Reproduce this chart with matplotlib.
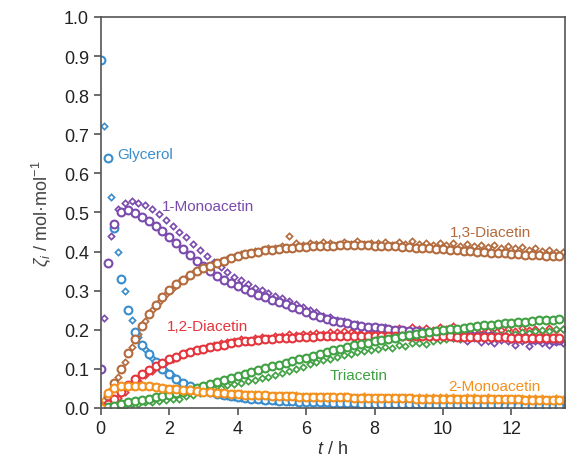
import numpy as np
import matplotlib
matplotlib.use("Agg")
import matplotlib.pyplot as plt

plt.rcParams["font.family"] = ["Liberation Sans", "DejaVu Sans"]
plt.rcParams["mathtext.fontset"] = "custom"
plt.rcParams["mathtext.rm"] = "Liberation Sans"
plt.rcParams["mathtext.it"] = "Liberation Sans:italic"

# sampling times (h): model every 0.2 h, measurement offset by 0.1 h
t_model = np.round(np.arange(0, 13.41, 0.2), 1)
t_exp = np.round(np.arange(0.1, 13.51, 0.2), 1)

# model values (open circles)
glycerol_model = [
    0.89, 0.64, 0.46, 0.33, 0.25, 0.195, 0.16, 0.137, 0.117, 0.100,
    0.086, 0.074, 0.064, 0.056, 0.049, 0.044, 0.040, 0.036, 0.033, 0.030,
    0.028, 0.026, 0.024, 0.023, 0.021, 0.020, 0.019, 0.018, 0.017, 0.016,
    0.015, 0.015, 0.014, 0.014, 0.013, 0.013, 0.012, 0.012, 0.011, 0.011,
    0.011, 0.010, 0.010, 0.010, 0.009, 0.009, 0.009, 0.009, 0.008, 0.008,
    0.008, 0.008, 0.008, 0.007, 0.007, 0.007, 0.007, 0.007, 0.007, 0.006,
    0.006, 0.006, 0.006, 0.006, 0.006, 0.006, 0.005, 0.005]
mono1_model = [
    0.10, 0.37, 0.47, 0.50, 0.505, 0.498, 0.488, 0.478, 0.466, 0.452,
    0.437, 0.421, 0.406, 0.391, 0.377, 0.363, 0.350, 0.338, 0.328, 0.319,
    0.311, 0.304, 0.297, 0.290, 0.283, 0.277, 0.271, 0.265, 0.259, 0.252,
    0.245, 0.238, 0.232, 0.227, 0.223, 0.219, 0.216, 0.213, 0.210, 0.208,
    0.206, 0.204, 0.202, 0.200, 0.199, 0.197, 0.196, 0.194, 0.193, 0.192,
    0.190, 0.189, 0.188, 0.187, 0.186, 0.185, 0.184, 0.183, 0.182, 0.181,
    0.180, 0.179, 0.178, 0.177, 0.177, 0.176, 0.175, 0.175]
di13_model = [
    0.000, 0.030, 0.064, 0.100, 0.140, 0.176, 0.210, 0.240, 0.264, 0.285,
    0.302, 0.316, 0.328, 0.339, 0.349, 0.357, 0.364, 0.371, 0.377, 0.383,
    0.388, 0.393, 0.397, 0.400, 0.403, 0.405, 0.407, 0.409, 0.410, 0.411,
    0.412, 0.413, 0.414, 0.415, 0.415, 0.416, 0.416, 0.416, 0.416, 0.416,
    0.415, 0.415, 0.414, 0.413, 0.412, 0.411, 0.410, 0.409, 0.408, 0.407,
    0.406, 0.405, 0.403, 0.402, 0.401, 0.400, 0.398, 0.397, 0.396, 0.395,
    0.394, 0.393, 0.392, 0.391, 0.390, 0.389, 0.388, 0.388]
di12_model = [
    0.000, 0.010, 0.024, 0.042, 0.058, 0.073, 0.086, 0.097, 0.107, 0.116,
    0.124, 0.131, 0.137, 0.142, 0.147, 0.151, 0.155, 0.159, 0.162, 0.165,
    0.168, 0.170, 0.172, 0.174, 0.176, 0.177, 0.178, 0.179, 0.180, 0.181,
    0.182, 0.182, 0.183, 0.183, 0.184, 0.184, 0.184, 0.184, 0.184, 0.184,
    0.184, 0.184, 0.184, 0.184, 0.184, 0.184, 0.183, 0.183, 0.183, 0.183,
    0.183, 0.183, 0.182, 0.182, 0.182, 0.182, 0.181, 0.181, 0.181, 0.181,
    0.180, 0.180, 0.180, 0.180, 0.179, 0.179, 0.179, 0.179]
tri_model = [
    0.000, 0.003, 0.006, 0.010, 0.014, 0.017, 0.021, 0.024, 0.027, 0.030,
    0.034, 0.038, 0.042, 0.047, 0.052, 0.057, 0.062, 0.067, 0.072, 0.077,
    0.082, 0.087, 0.091, 0.096, 0.101, 0.106, 0.110, 0.115, 0.119, 0.124,
    0.128, 0.133, 0.138, 0.143, 0.147, 0.152, 0.156, 0.160, 0.164, 0.167,
    0.171, 0.174, 0.177, 0.180, 0.183, 0.186, 0.189, 0.191, 0.194, 0.196,
    0.199, 0.201, 0.203, 0.205, 0.207, 0.209, 0.211, 0.213, 0.215, 0.216,
    0.218, 0.219, 0.221, 0.222, 0.224, 0.225, 0.226, 0.227]
mono2_model = [
    0.000, 0.038, 0.050, 0.055, 0.057, 0.057, 0.056, 0.055, 0.053, 0.051,
    0.049, 0.048, 0.046, 0.045, 0.043, 0.041, 0.040, 0.039, 0.037, 0.036,
    0.035, 0.034, 0.033, 0.033, 0.032, 0.031, 0.031, 0.030, 0.030, 0.029,
    0.029, 0.028, 0.028, 0.028, 0.027, 0.027, 0.027, 0.026, 0.026, 0.026,
    0.026, 0.025, 0.025, 0.025, 0.025, 0.025, 0.024, 0.024, 0.024, 0.024,
    0.024, 0.023, 0.023, 0.023, 0.023, 0.023, 0.022, 0.022, 0.022, 0.022,
    0.022, 0.022, 0.021, 0.021, 0.021, 0.021, 0.021, 0.020]

# measured values (small diamonds)
glycerol_exp = [
    0.72, 0.54, 0.40, 0.30, 0.226, 0.182, 0.150, 0.127, 0.110, 0.094,
    0.082, 0.070, 0.061, 0.053, 0.047, 0.043, 0.039, 0.034, 0.030, 0.028,
    0.026, 0.025, 0.022, 0.021, 0.020, 0.018, 0.018, 0.016, 0.016, 0.015,
    0.014, 0.014, 0.013, 0.013, 0.012, 0.011, 0.012, 0.011, 0.010, 0.010,
    0.010, 0.009, 0.010, 0.009, 0.008, 0.009, 0.008, 0.008, 0.008, 0.007,
    0.008, 0.007, 0.007, 0.007, 0.006, 0.007, 0.006, 0.006, 0.006, 0.006,
    0.006, 0.005, 0.006, 0.005, 0.005, 0.005, 0.005, 0.005]
mono1_exp = [
    0.23, 0.44, 0.51, 0.525, 0.530, 0.524, 0.518, 0.508, 0.495, 0.481,
    0.466, 0.451, 0.436, 0.420, 0.404, 0.388, 0.373, 0.360, 0.347, 0.336,
    0.326, 0.316, 0.308, 0.301, 0.294, 0.287, 0.281, 0.274, 0.267, 0.259,
    0.251, 0.246, 0.236, 0.232, 0.224, 0.222, 0.215, 0.214, 0.208, 0.207,
    0.204, 0.206, 0.200, 0.203, 0.198, 0.196, 0.199, 0.193, 0.195, 0.190,
    0.186, 0.180, 0.176, 0.170, 0.178, 0.168, 0.172, 0.165, 0.174, 0.170,
    0.162, 0.172, 0.158, 0.170, 0.166, 0.160, 0.168, 0.165]
di13_exp = [
    0.012, 0.045, 0.080, 0.118, 0.155, 0.190, 0.222, 0.250, 0.272, 0.292,
    0.308, 0.322, 0.333, 0.344, 0.352, 0.362, 0.368, 0.375, 0.381, 0.386,
    0.393, 0.396, 0.402, 0.404, 0.408, 0.410, 0.414, 0.440, 0.421, 0.418,
    0.422, 0.419, 0.425, 0.421, 0.418, 0.424, 0.420, 0.426, 0.419, 0.423,
    0.421, 0.425, 0.418, 0.424, 0.420, 0.427, 0.419, 0.423, 0.417, 0.422,
    0.418, 0.421, 0.415, 0.420, 0.413, 0.418, 0.412, 0.416, 0.410, 0.414,
    0.408, 0.411, 0.405, 0.408, 0.402, 0.404, 0.399, 0.400]
di12_exp = [
    0.004, 0.012, 0.025, 0.040, 0.055, 0.070, 0.083, 0.095, 0.106, 0.117,
    0.126, 0.134, 0.141, 0.146, 0.152, 0.157, 0.160, 0.165, 0.168, 0.171,
    0.176, 0.172, 0.179, 0.182, 0.180, 0.185, 0.183, 0.188, 0.186, 0.190,
    0.188, 0.192, 0.190, 0.195, 0.193, 0.197, 0.194, 0.199, 0.196, 0.201,
    0.198, 0.203, 0.199, 0.204, 0.200, 0.206, 0.201, 0.204, 0.199, 0.207,
    0.202, 0.209, 0.200, 0.205, 0.198, 0.203, 0.197, 0.204, 0.199, 0.203,
    0.198, 0.205, 0.200, 0.203, 0.197, 0.204, 0.199, 0.202]
tri_exp = [
    0.001, 0.003, 0.005, 0.006, 0.009, 0.011, 0.014, 0.016, 0.019, 0.021,
    0.024, 0.022, 0.030, 0.034, 0.038, 0.044, 0.048, 0.052, 0.058, 0.062,
    0.064, 0.068, 0.072, 0.076, 0.080, 0.084, 0.090, 0.094, 0.100, 0.105,
    0.112, 0.117, 0.122, 0.126, 0.130, 0.135, 0.138, 0.142, 0.146, 0.148,
    0.151, 0.155, 0.153, 0.160, 0.158, 0.165, 0.167, 0.164, 0.171, 0.174,
    0.176, 0.180, 0.178, 0.183, 0.181, 0.186, 0.184, 0.189, 0.187, 0.191,
    0.190, 0.194, 0.192, 0.196, 0.199, 0.197, 0.201, 0.203]
mono2_exp = [
    0.020, 0.045, 0.053, 0.056, 0.057, 0.058, 0.056, 0.055, 0.054, 0.052,
    0.050, 0.049, 0.047, 0.046, 0.044, 0.043, 0.041, 0.040, 0.039, 0.038,
    0.037, 0.036, 0.035, 0.034, 0.034, 0.033, 0.033, 0.032, 0.032, 0.031,
    0.031, 0.030, 0.031, 0.030, 0.029, 0.030, 0.029, 0.029, 0.030, 0.028,
    0.029, 0.028, 0.029, 0.028, 0.028, 0.029, 0.027, 0.028, 0.027, 0.028,
    0.027, 0.028, 0.026, 0.027, 0.027, 0.026, 0.027, 0.026, 0.026, 0.025,
    0.026, 0.025, 0.026, 0.025, 0.025, 0.024, 0.025, 0.024]

names = ["Glycerol", "1-Monoacetin", "1,3-Diacetin", "1,2-Diacetin",
         "Triacetin", "2-Monoacetin"]
colors = ["#3a8dcc", "#7b4aad", "#b36a3c", "#e4343c", "#3fa142", "#f4901c"]
label_pos = [(0.48, 0.65), (1.79, 0.517), (10.2, 0.451), (1.93, 0.21),
             (6.69, 0.083), (10.14, 0.057)]

models = [glycerol_model, mono1_model, di13_model, di12_model, tri_model, mono2_model]
measured = [glycerol_exp, mono1_exp, di13_exp, di12_exp, tri_exp, mono2_exp]

fig = plt.figure(figsize=(5.66, 4.60), dpi=100)
ax = fig.add_axes([0.178, 0.111, 0.82, 0.85])

for y, c in zip(measured, colors):
    ax.plot(t_exp, y, ls="none", marker="D", ms=3.2, mfc="white", mec=c, mew=1.2)
for y, c in zip(models, colors):
    ax.plot(t_model, y, ls="none", marker="o", ms=5.6, mfc="white", mec=c, mew=1.5)

for name, c, (x, y) in zip(names, colors, label_pos):
    ax.text(x, y, name, color=c, fontsize=11, va="center", ha="left")

ax.set_xlim(0, 13.56)
ax.set_ylim(0, 1.0)
ax.set_xticks([0, 2, 4, 6, 8, 10, 12])
ax.set_yticks(np.round(np.arange(0, 1.01, 0.1), 1))
ax.yaxis.set_major_formatter(matplotlib.ticker.FormatStrFormatter("%.1f"))
ax.tick_params(direction="out", length=5, width=1.1, colors="#444",
               labelsize=13, labelcolor="#222")
for s in ax.spines.values():
    s.set_color("#555")
    s.set_linewidth(1.2)

ax.set_xlabel(r"$t$ / h", fontsize=13, color="#333", labelpad=2)
ax.set_ylabel(r"$\zeta_i$ / mol·mol$^{-1}$", fontsize=13, color="#444", labelpad=8)

fig.savefig("out.png", dpi=100)
